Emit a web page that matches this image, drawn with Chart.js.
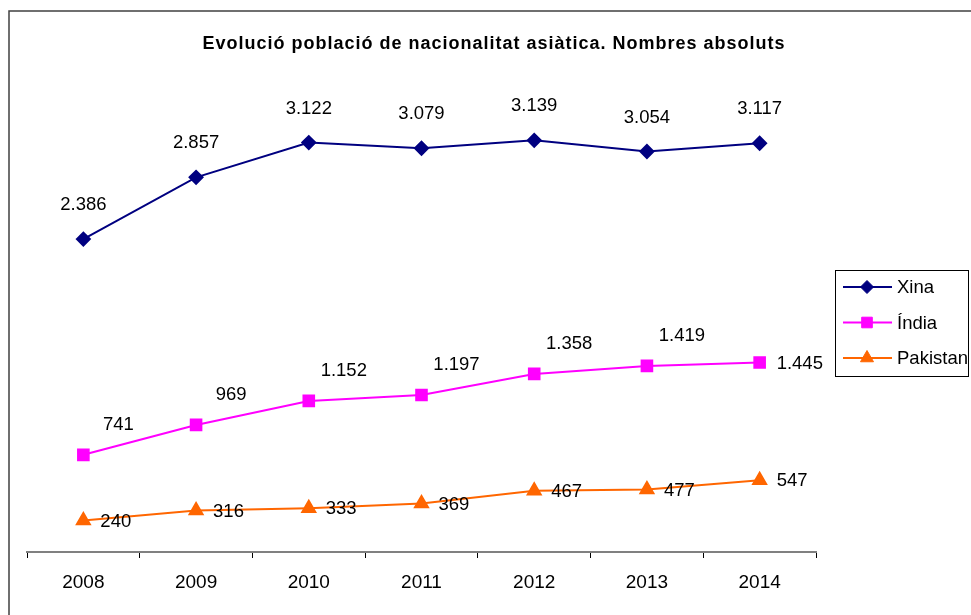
<!DOCTYPE html>
<html>
<head>
<meta charset="utf-8">
<script src="https://cdn.jsdelivr.net/npm/chart.js@4/dist/chart.umd.min.js"></script>
<style>
  html, body { margin: 0; padding: 0; background: #fff; }
  #wrap { width: 971px; height: 615px; position: relative; }
</style>
</head>
<body>
<div id="wrap"><canvas id="chart" width="971" height="615"></canvas></div>
<script>
// dades
const anys = ['2008', '2009', '2010', '2011', '2012', '2013', '2014'];
const xina = [2386, 2857, 3122, 3079, 3139, 3054, 3117];
const india = [741, 969, 1152, 1197, 1358, 1419, 1445];
const pakistan = [240, 316, 333, 369, 467, 477, 547];
const titol = 'Evolució població de nacionalitat asiàtica. Nombres absoluts';

const FONT = "'Liberation Sans', Arial, sans-serif";

// format català: punt com a separador de milers
function fmt(n) {
    return String(n).replace(/\B(?=(\d{3})+(?!\d))/g, '.');
}

// etiquetes de valor al costat de cada punt
const valueLabels = {
    id: 'valueLabels',
    afterDatasetsDraw(chart) {
        const ctx = chart.ctx;
        ctx.save();
        ctx.font = '18.5px ' + FONT;
        ctx.fillStyle = '#000';
        ctx.textBaseline = 'middle';
        chart.data.datasets.forEach((ds, di) => {
            const meta = chart.getDatasetMeta(di);
            meta.data.forEach((pt, i) => {
                let pos = ds.labelPos;
                if (i === meta.data.length - 1 && ds.lastLabelPos) pos = ds.lastLabelPos;
                const txt = fmt(ds.data[i]);
                if (pos === 'above') {
                    ctx.textAlign = 'center';
                    ctx.fillText(txt, pt.x, pt.y - 34);
                } else if (pos === 'aboveRight') {
                    ctx.textAlign = 'center';
                    ctx.fillText(txt, pt.x + 35, pt.y - 30);
                } else {
                    ctx.textAlign = 'left';
                    ctx.fillText(txt, pt.x + 17, pt.y + 1);
                }
            });
        });
        ctx.restore();
    }
};

// marc, títol i llegenda
const frame = {
    id: 'frame',
    beforeDraw(chart) {
        const ctx = chart.ctx;
        ctx.save();
        ctx.fillStyle = '#fff';
        ctx.fillRect(0, 0, chart.width, chart.height);
        ctx.strokeStyle = '#404040';
        ctx.lineWidth = 1.5;
        ctx.strokeRect(9, 11, chart.width + 20, chart.height + 20);
        ctx.restore();
    },
    afterDraw(chart) {
        const ctx = chart.ctx;
        ctx.save();
        // títol
        ctx.font = 'bold 18px ' + FONT;
        ctx.letterSpacing = '1px';
        ctx.fillStyle = '#000';
        ctx.textAlign = 'center';
        ctx.textBaseline = 'alphabetic';
        ctx.fillText(titol, 494, 49);
        ctx.letterSpacing = '0px';

        // llegenda
        const lx = 835, ly = 270, lw = 133, lh = 106;
        ctx.strokeStyle = '#000';
        ctx.lineWidth = 1;
        ctx.strokeRect(lx + 0.5, ly + 0.5, lw, lh);
        ctx.font = '18.5px ' + FONT;
        ctx.textAlign = 'left';
        ctx.textBaseline = 'middle';
        chart.data.datasets.forEach((ds, i) => {
            const y = ly + 17 + i * 35.5;
            ctx.strokeStyle = ds.borderColor;
            ctx.lineWidth = 2;
            ctx.beginPath();
            ctx.moveTo(lx + 8, y);
            ctx.lineTo(lx + 57, y);
            ctx.stroke();
            ctx.fillStyle = ds.backgroundColor;
            ctx.strokeStyle = ds.borderColor;
            ctx.lineWidth = 1;
            Chart.helpers.drawPoint(ctx, { pointStyle: ds.pointStyle, radius: ds.pointRadius, rotation: 0, borderWidth: 1 }, lx + 32, y);
            ctx.fillStyle = '#000';
            ctx.fillText(ds.label, lx + 62, y + 1);
        });
        ctx.restore();
    }
};

new Chart(document.getElementById('chart'), {
    type: 'line',
    data: {
        labels: anys,
        datasets: [
            { label: 'Xina', data: xina, borderColor: '#000080', backgroundColor: '#000080', borderWidth: 2,
              pointStyle: 'rectRot', pointRadius: 6.5, labelPos: 'above' },
            { label: 'Índia', data: india, borderColor: '#FF00FF', backgroundColor: '#FF00FF', borderWidth: 2,
              pointStyle: 'rect', pointRadius: 7.5, labelPos: 'aboveRight', lastLabelPos: 'right' },
            { label: 'Pakistan', data: pakistan, borderColor: '#FF6600', backgroundColor: '#FF6600', borderWidth: 2,
              pointStyle: 'triangle', pointRadius: 7.5, labelPos: 'right' }
        ]
    },
    options: {
        responsive: false,
        animation: false,
        events: [],
        layout: { padding: { left: 27, right: 155, top: 93, bottom: 0 } },
        plugins: { legend: { display: false }, title: { display: false }, tooltip: { enabled: false } },
        elements: { line: { tension: 0 }, point: { borderWidth: 1 } },
        scales: {
            x: {
                offset: true,
                grid: { offset: true, drawOnChartArea: false, drawTicks: true, tickLength: 6, color: '#000', lineWidth: 1 },
                border: { color: '#808080', width: 2 },
                ticks: { color: '#000', font: { family: FONT, size: 19 }, padding: 13, maxRotation: 0 },
                afterFit: s => { s.height = 63; }
            },
            y: { display: false, min: 0, max: 3500 }
        }
    },
    plugins: [frame, valueLabels]
});
</script>
</body>
</html>
